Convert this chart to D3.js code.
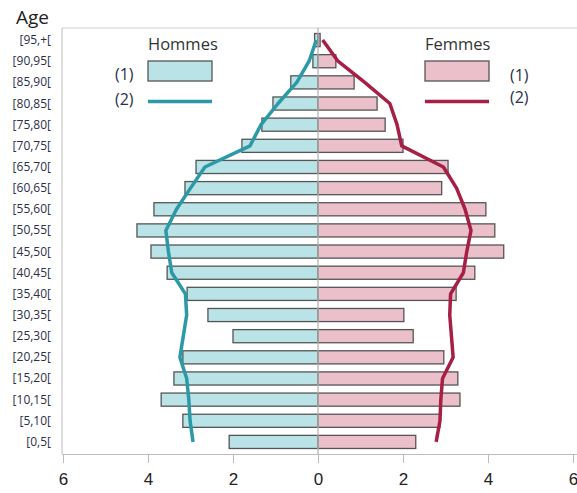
<!DOCTYPE html>
<html><head><meta charset="utf-8">
<script src="https://cdn.jsdelivr.net/npm/d3@7"></script>
<style>body{margin:0;background:#fff}</style>
</head><body>
<script>
const ages = ["[95,+[","[90,95[","[85,90[","[80,85[","[75,80[","[70,75[","[65,70[","[60,65[","[55,60[","[50,55[","[45,50[","[40,45[","[35,40[","[30,35[","[25,30[","[20,25[","[15,20[","[10,15[","[5,10[","[0,5["];
const hommes1 = [0.08,0.12,0.64,1.06,1.32,1.79,2.87,3.13,3.86,4.26,3.93,3.55,3.08,2.59,2.0,3.18,3.39,3.69,3.18,2.09];
const femmes1 = [0.05,0.42,0.85,1.39,1.58,2.0,3.06,2.91,3.95,4.16,4.37,3.69,3.25,2.02,2.24,2.96,3.29,3.34,2.87,2.30];
const hommes2 = [0.04,0.21,0.50,0.94,1.34,1.6,2.66,3.0,3.33,3.58,3.52,3.44,3.12,3.09,3.17,3.25,3.09,3.04,3.01,2.94];
const femmes2 = [0.11,0.47,1.1,1.69,1.86,1.97,2.95,3.26,3.46,3.6,3.5,3.42,3.12,3.1,3.14,3.18,2.93,2.89,2.87,2.78];
const ticks = [-6,-4,-2,0,2,4,6];

const W=577,H=493;
const svg=d3.select("body").append("svg").attr("width",W).attr("height",H).style("font-family","'Open Sans', 'DejaVu Sans', sans-serif");
const x=d3.scaleLinear().domain([-6,6]).range([63,573]);
const y=d3.scaleBand().domain(ages).range([29.5,452.5]).paddingInner(0.38).paddingOuter(0.19);
const yc=d=>y(d)+y.bandwidth()/2;
const yTop=28,yBot=454;

// frame
svg.append("line").attr("x1",62).attr("x2",W).attr("y1",yTop).attr("y2",yTop).attr("stroke","#cfcfcf");
svg.append("line").attr("x1",62).attr("x2",62).attr("y1",yTop).attr("y2",yBot).attr("stroke","#bdbdbd");
// axis
const ax=svg.append("g").attr("transform",`translate(0,${yBot})`)
  .call(d3.axisBottom(x).tickValues(ticks).tickFormat(d=>Math.abs(d)).tickSize(9).tickPadding(10));
ax.select(".domain").attr("stroke","#bdbdbd").attr("d",`M62,0.5H${W}`);
ax.selectAll(".tick line").attr("stroke","#bdbdbd");
ax.selectAll(".tick text").attr("font-size",17).attr("fill","#222");

// bars
svg.selectAll(".bh").data(ages).enter().append("rect")
  .attr("x",(d,i)=>x(-hommes1[i])).attr("width",(d,i)=>x(0)-x(-hommes1[i]))
  .attr("y",d=>y(d)).attr("height",y.bandwidth())
  .attr("fill","#b9e3e7").attr("stroke","#555").attr("stroke-width",1.3);
svg.selectAll(".bf").data(ages).enter().append("rect")
  .attr("x",x(0)).attr("width",(d,i)=>x(femmes1[i])-x(0))
  .attr("y",d=>y(d)).attr("height",y.bandwidth())
  .attr("fill","#ebc0ca").attr("stroke","#555").attr("stroke-width",1.3);

// center line
svg.append("line").attr("x1",x(0)).attr("x2",x(0)).attr("y1",yTop).attr("y2",yBot).attr("stroke","#b5b5b5").attr("stroke-width",1.3);

// lines
const lh=d3.line().x((d,i)=>x(-d)).y((d,i)=>yc(ages[i]));
const lf=d3.line().x((d,i)=>x(d)).y((d,i)=>yc(ages[i]));
svg.append("path").attr("d",lh(hommes2)).attr("fill","none").attr("stroke","#2b99a6").attr("stroke-width",3.5).attr("stroke-linejoin","round");
svg.append("path").attr("d",lf(femmes2)).attr("fill","none").attr("stroke","#a61f44").attr("stroke-width",3.5).attr("stroke-linejoin","round");

// age labels
svg.selectAll(".al").data(ages).enter().append("text")
  .attr("x",51).attr("y",d=>yc(d)+4).attr("text-anchor","end")
  .attr("font-size",12).attr("fill","#2a2f4a").text(d=>d);
svg.append("text").attr("x",16).attr("y",24).attr("font-size",19).attr("fill","#222").text("Age");

// legend
const lg=svg.append("g").attr("font-size",16).attr("fill","#2a2f4a");
lg.append("text").attr("x",148).attr("y",50).attr("font-size",16.5).attr("fill","#333").text("Hommes");
lg.append("rect").attr("x",148).attr("y",61).attr("width",64).attr("height",20).attr("fill","#b9e3e7").attr("stroke","#555").attr("stroke-width",1.3);
lg.append("line").attr("x1",148).attr("x2",212).attr("y1",101.5).attr("y2",101.5).attr("stroke","#2b99a6").attr("stroke-width",3.5);
lg.append("text").attr("x",115).attr("y",80).text("(1)");
lg.append("text").attr("x",115).attr("y",105).text("(2)");
lg.append("text").attr("x",425).attr("y",50).attr("font-size",16.5).attr("fill","#333").text("Femmes");
lg.append("rect").attr("x",425).attr("y",61).attr("width",64).attr("height",20).attr("fill","#ebc0ca").attr("stroke","#555").attr("stroke-width",1.3);
lg.append("line").attr("x1",425).attr("x2",489).attr("y1",101.5).attr("y2",101.5).attr("stroke","#a61f44").attr("stroke-width",3.5);
lg.append("text").attr("x",510).attr("y",81).text("(1)");
lg.append("text").attr("x",510).attr("y",103).text("(2)");
</script>
</body></html>
